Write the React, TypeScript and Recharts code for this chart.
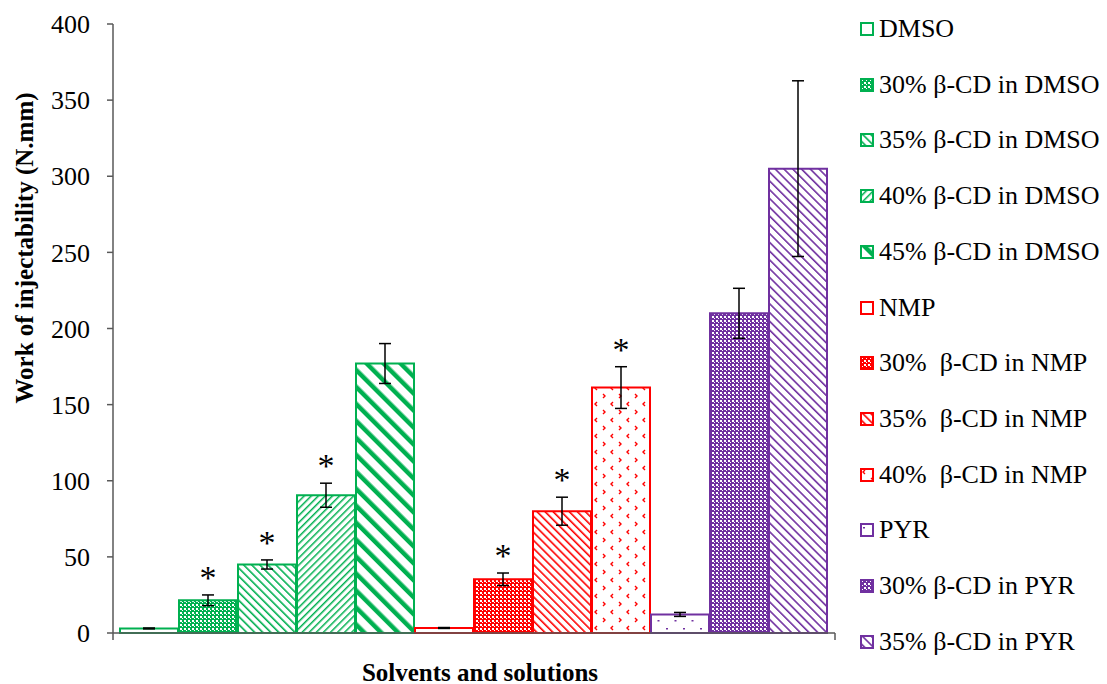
import React from "react";
import { BarChart, Bar, XAxis, YAxis, ErrorBar, LabelList } from "recharts";

// one bar per solvent / solution, in drawing order
const labels = [
  "DMSO",
  "30% β-CD in DMSO",
  "35% β-CD in DMSO",
  "40% β-CD in DMSO",
  "45% β-CD in DMSO",
  "NMP",
  "30%  β-CD in NMP",
  "35%  β-CD in NMP",
  "40%  β-CD in NMP",
  "PYR",
  "30% β-CD in PYR",
  "35% β-CD in PYR",
];
const means = [3, 21.5, 45, 90.5, 177, 3.3, 35.3, 80, 161.2, 12.2, 210, 305];
const errors = [0.3, 3.5, 3, 7.9, 13.1, 0.3, 4.1, 9.2, 13.7, 1.3, 16.4, 57.7];
// significant vs. pure solvent
const starred = [false, true, true, true, false, false, true, true, true, false, false, false];
const yTicks = [0, 50, 100, 150, 200, 250, 300, 350, 400];

const GREEN = "#00B050";
const RED = "#FF0000";
const PURPLE = "#7030A0";
const AXIS = "#595959";
const FONT = "'Liberation Serif', Tinos, 'Times New Roman', 'DejaVu Serif', serif";

const colors = [GREEN, GREEN, GREEN, GREEN, GREEN, RED, RED, RED, RED, PURPLE, PURPLE, PURPLE];
const fills = [
  "#ffffff",
  "url(#chk-g)",
  "url(#bd-g)",
  "url(#fd-g)",
  "url(#wd-g)",
  "#ffffff",
  "url(#chk-r)",
  "url(#bd-r)",
  "url(#cf-r)",
  "url(#dot-p)",
  "url(#chk-p)",
  "url(#bd-p)",
];

const row: Record<string, number | string> = { name: "all" };
means.forEach((v, i) => {
  row[`v${i}`] = v;
  row[`e${i}`] = errors[i];
});
const data = [row];

function Patterns() {
  const checker = (id: string, c: string) => (
    <pattern id={id} width={4} height={4} patternUnits="userSpaceOnUse">
      <rect width={4} height={4} fill={c} />
      <rect x={0} y={0} width={2} height={2} fill="#fff" />
      <rect x={2} y={2} width={1} height={1} fill="#fff" />
    </pattern>
  );
  const stripes = (id: string, c: string, period: number, w: number, angle: number) => (
    <pattern
      id={id}
      width={period}
      height={period}
      patternUnits="userSpaceOnUse"
      patternTransform={`rotate(${angle})`}
    >
      <rect width={period} height={period} fill="#fff" />
      <rect width={w} height={period} fill={c} />
    </pattern>
  );
  return (
    <svg width={0} height={0} style={{ position: "absolute" }}>
      <defs>
        {checker("chk-g", GREEN)}
        {checker("chk-r", RED)}
        {checker("chk-p", PURPLE)}
        {stripes("bd-g", GREEN, 5.7, 1.6, -45)}
        {stripes("fd-g", GREEN, 5, 1.5, 45)}
        {stripes("wd-g", GREEN, 12, 4.5, -45)}
        {stripes("bd-r", RED, 5.7, 1.6, -45)}
        {stripes("bd-p", PURPLE, 6.2, 1.6, -45)}
        <pattern id="cf-r" width={16} height={16} patternUnits="userSpaceOnUse">
          <rect width={16} height={16} fill="#fff" />
          <path d="M5,2 L3,4 L5,6" stroke={RED} strokeWidth={1.4} fill="none" />
          <path d="M11,10 L13,12 L11,14" stroke={RED} strokeWidth={1.4} fill="none" />
        </pattern>
        <pattern id="dot-p" width={17} height={16} patternUnits="userSpaceOnUse">
          <rect width={17} height={16} fill="#fff" />
          <rect x={3} y={4} width={2} height={1.5} fill={PURPLE} />
          <rect x={11.5} y={12} width={2} height={1.5} fill={PURPLE} />
        </pattern>
      </defs>
    </svg>
  );
}

const starLabel = (i: number) => (props: any) => {
  const x = Number(props.x);
  const y = Number(props.y);
  const w = Number(props.width);
  const h = Number(props.height);
  const perUnit = h / means[i];
  const top = y - errors[i] * perUnit;
  return (
    <text x={x + w / 2} y={top - 6} textAnchor="middle" fontSize={34} fill="#000" fontFamily={FONT}>
      *
    </text>
  );
};

// Excel-style tick marks at both ends of the single category band
const EdgeTicks = (props: any) => {
  const x = Number(props.x);
  const y = Number(props.y);
  const half = Number(props.width) / 2;
  if (!isFinite(half)) return <g />;
  return (
    <g stroke={AXIS} strokeWidth={1.5}>
      <line x1={x - half} y1={y} x2={x - half} y2={y + 7} />
      <line x1={x + half} y1={y} x2={x + half} y2={y + 7} />
    </g>
  );
};

export default function App() {
  return (
    <div style={{ position: "relative", width: 1107, height: 684, fontFamily: FONT, background: "#fff" }}>
      <style>{"body{margin:0;overflow:hidden}"}</style>
      <Patterns />
      <BarChart
        width={1107}
        height={684}
        data={data}
        margin={{ top: 24, right: 272, bottom: 0, left: 0 }}
        barCategoryGap={7}
        barGap={1}
        style={{ fontFamily: FONT }}
      >
        <XAxis
          dataKey="name"
          tick={<EdgeTicks />}
          tickLine={false}
          tickSize={0}
          tickMargin={0}
          height={51}
          axisLine={{ stroke: AXIS, strokeWidth: 1.5 }}
        />
        <YAxis
          width={113}
          domain={[0, 400]}
          ticks={yTicks}
          interval={0}
          tickSize={6}
          tickMargin={17}
          axisLine={{ stroke: AXIS, strokeWidth: 1.5 }}
          tickLine={{ stroke: AXIS, strokeWidth: 1.5 }}
          tick={{ fontSize: 26, fill: "#000", fontFamily: FONT }}
        />
        {means.map((_, i) => (
          <Bar
            key={i}
            dataKey={`v${i}`}
            name={labels[i]}
            fill={fills[i]}
            stroke={colors[i]}
            strokeWidth={2}
            isAnimationActive={false}
          >
            <ErrorBar
              dataKey={`e${i}`}
              width={6}
              stroke="#000"
              strokeWidth={1.5}
              direction="y"
              isAnimationActive={false}
            />
            {starred[i] && <LabelList dataKey={`v${i}`} content={starLabel(i)} />}
          </Bar>
        ))}
      </BarChart>

      {/* axis titles */}
      <div
        style={{
          position: "absolute",
          left: -175,
          top: 233,
          width: 400,
          height: 30,
          lineHeight: "30px",
          textAlign: "center",
          fontWeight: "bold",
          fontSize: 25,
          transform: "rotate(-90deg)",
        }}
      >
        Work of injectability (N.mm)
      </div>
      <div
        style={{
          position: "absolute",
          left: 280,
          top: 659,
          width: 400,
          lineHeight: "28px",
          textAlign: "center",
          fontWeight: "bold",
          fontSize: 25,
        }}
      >
        Solvents and solutions
      </div>

      {/* legend */}
      {labels.map((name, i) => (
        <div
          key={name}
          style={{
            position: "absolute",
            left: 860,
            top: 29 + i * 55.7 - 15,
            height: 30,
            display: "flex",
            alignItems: "center",
            fontSize: 26,
            whiteSpace: "pre",
          }}
        >
          <svg width={14} height={14} style={{ flex: "none" }}>
            <rect x={1} y={1} width={12} height={12} fill={fills[i]} stroke={colors[i]} strokeWidth={2} />
          </svg>
          <span style={{ marginLeft: 5 }}>{name}</span>
        </div>
      ))}
    </div>
  );
}
